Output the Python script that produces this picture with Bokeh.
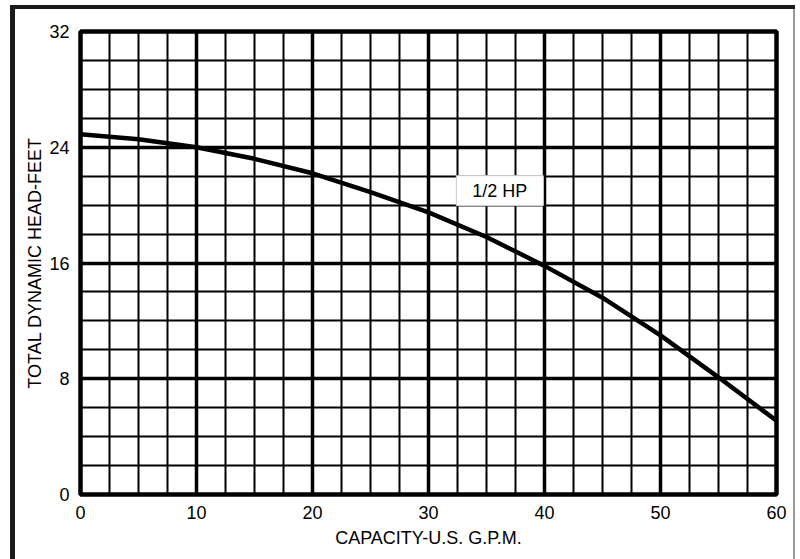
from bokeh.plotting import figure
from bokeh.models import Range1d, SingleIntervalTicker, Label, Div, Spacer
from bokeh.layouts import column, row
from bokeh.embed import file_html
from bokeh.resources import INLINE

# Data
capacity_gpm = [0, 5, 10, 15, 20, 25, 30, 35, 40, 45, 50, 55, 60]
head_feet = [24.9, 24.55, 24.0, 23.2, 22.2, 20.9, 19.5, 17.8, 15.8, 13.6, 11.0, 8.1, 5.1]
curve_label = "1/2 HP"
curve_label_x = 36.15
curve_label_y = 21.0
x_title = "CAPACITY-U.S. G.P.M."
y_title = "TOTAL DYNAMIC HEAD-FEET"

FONT = "Liberation Sans"
FW, FH = 778, 550

p = figure(width=FW, height=FH, output_backend="svg", toolbar_location=None,
           x_range=Range1d(0, 60), y_range=Range1d(0, 32),
           min_border_left=65, min_border_right=17, min_border_top=22, min_border_bottom=65)

p.background_fill_color = "white"
p.border_fill_color = "white"
p.outline_line_color = "black"
p.outline_line_width = 4.5
p.outline_line_alpha = 1.0

p.xaxis.ticker = SingleIntervalTicker(interval=10, num_minor_ticks=4)
p.yaxis.ticker = SingleIntervalTicker(interval=8, num_minor_ticks=4)
p.xgrid.ticker = p.xaxis.ticker
p.ygrid.ticker = p.yaxis.ticker

for g in (p.xgrid, p.ygrid):
    g.grid_line_color = "black"
    g.grid_line_width = 3.5
    g.grid_line_alpha = 1.0
    g.minor_grid_line_color = "black"
    g.minor_grid_line_width = 2
    g.minor_grid_line_alpha = 1.0

for ax in (p.xaxis, p.yaxis):
    ax.axis_line_color = None
    ax.major_tick_line_color = None
    ax.minor_tick_line_color = None
    ax.major_label_text_font = FONT
    ax.major_label_text_font_size = "18px"
    ax.major_label_text_color = "black"
    ax.axis_label_text_font = FONT
    ax.axis_label_text_font_size = "18px"
    ax.axis_label_text_font_style = "normal"
    ax.axis_label_text_color = "black"

p.xaxis.axis_label = x_title
p.yaxis.axis_label = y_title
p.xaxis.major_label_standoff = 5
p.yaxis.major_label_standoff = 5
p.xaxis.axis_label_standoff = 6
p.yaxis.axis_label_standoff = 1

p.line(capacity_gpm, head_feet, line_color="black", line_width=4.5)

lab = Label(x=curve_label_x, y=curve_label_y, text=curve_label,
            text_align="center", text_baseline="middle",
            text_font=FONT, text_font_size="18px", text_color="black",
            background_fill_color="white", background_fill_alpha=1.0,
            border_line_color="#d0d0d0", border_line_width=1,
            padding=(16, 5))
p.add_layout(lab)

# Outer page frame: dark top and left rules, light right rule
top_bar = Div(text="", width=5 + FW + 2, height=4, margin=0,
              styles={"background-color": "#1a1a1a"})
left_bar = Div(text="", width=5, height=FH, margin=0,
               styles={"background-color": "#1a1a1a"})
right_bar = Div(text="", width=2, height=FH, margin=0,
                styles={"background-color": "#9a9a9a"})

layout = column(
    Spacer(height=5, margin=0),
    row(Spacer(width=10, margin=0),
        column(top_bar, row(left_bar, p, right_bar, spacing=0), spacing=0),
        spacing=0),
    spacing=0,
)

open("out.html", "w").write(file_html(layout, INLINE))
